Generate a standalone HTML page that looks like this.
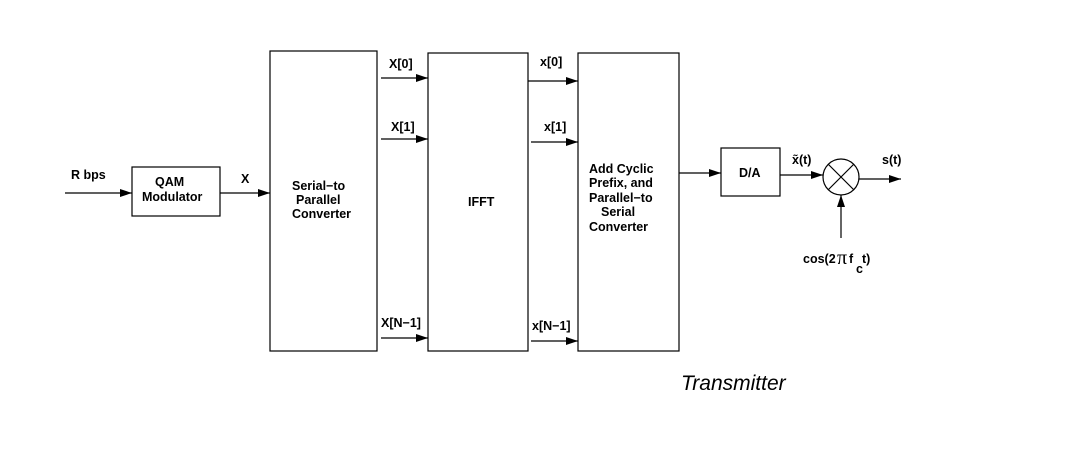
<!DOCTYPE html>
<html><head><meta charset="utf-8"><style>
html,body{margin:0;padding:0;background:#fff;}
svg{display:block;}
text{font-family:"Liberation Sans",sans-serif;font-weight:bold;font-size:12.5px;fill:#000;}
</style></head><body>
<svg width="1072" height="450" viewBox="0 0 1072 450">
<defs><marker id="a" markerWidth="12" markerHeight="8" refX="12" refY="4" orient="auto" markerUnits="userSpaceOnUse"><path d="M0,0 L12,4 L0,8 z" fill="#000"/></marker></defs>
<g fill="none" stroke="#000" stroke-width="1.2">
<rect x="132" y="167" width="88" height="49"/>
<rect x="270" y="51" width="107" height="300"/>
<rect x="428" y="53" width="100" height="298"/>
<rect x="578" y="53" width="101" height="298"/>
<rect x="721" y="148" width="59" height="48"/>
<circle cx="841" cy="177" r="18"/>
<path d="M828,164 L854,190 M854,164 L828,190"/>
<line x1="65" y1="193" x2="132" y2="193" marker-end="url(#a)"/>
<line x1="220" y1="193" x2="270" y2="193" marker-end="url(#a)"/>
<line x1="381" y1="78" x2="428" y2="78" marker-end="url(#a)"/>
<line x1="381" y1="139" x2="428" y2="139" marker-end="url(#a)"/>
<line x1="381" y1="338" x2="428" y2="338" marker-end="url(#a)"/>
<line x1="528" y1="81" x2="578" y2="81" marker-end="url(#a)"/>
<line x1="531" y1="142" x2="578" y2="142" marker-end="url(#a)"/>
<line x1="531" y1="341" x2="578" y2="341" marker-end="url(#a)"/>
<line x1="679" y1="173" x2="721" y2="173" marker-end="url(#a)"/>
<line x1="780" y1="175" x2="823" y2="175" marker-end="url(#a)"/>
<line x1="859" y1="179" x2="901" y2="179" marker-end="url(#a)"/>
<line x1="841" y1="238" x2="841" y2="195" marker-end="url(#a)"/>
</g>
<text x="71" y="179">R bps</text>
<text x="155" y="186">QAM</text>
<text x="142" y="201">Modulator</text>
<text x="241" y="183">X</text>
<text x="292" y="190">Serial−to</text>
<text x="296" y="204">Parallel</text>
<text x="292" y="218">Converter</text>
<text x="389" y="68">X[0]</text>
<text x="391" y="131">X[1]</text>
<text x="381" y="327">X[N−1]</text>
<text x="468" y="206">IFFT</text>
<text x="540" y="66">x[0]</text>
<text x="544" y="131">x[1]</text>
<text x="532" y="330">x[N−1]</text>
<text x="589" y="173">Add Cyclic</text>
<text x="589" y="187">Prefix, and</text>
<text x="589" y="202">Parallel−to</text>
<text x="601" y="216">Serial</text>
<text x="589" y="231">Converter</text>
<text x="739" y="177">D/A</text>
<text x="792" y="164">x̃(t)</text>
<text x="882" y="164">s(t)</text>
<text x="803" y="263">cos(2</text><text x="837" y="264" style="font-weight:normal;font-size:20px;font-family:'Liberation Serif',serif">π</text><text x="849" y="263">f</text><text x="856" y="273">c</text><text x="862" y="263">t)</text>
<text x="681" y="390" style="font-weight:normal;font-style:italic;font-size:21px">Transmitter</text>
</svg>
</body></html>
